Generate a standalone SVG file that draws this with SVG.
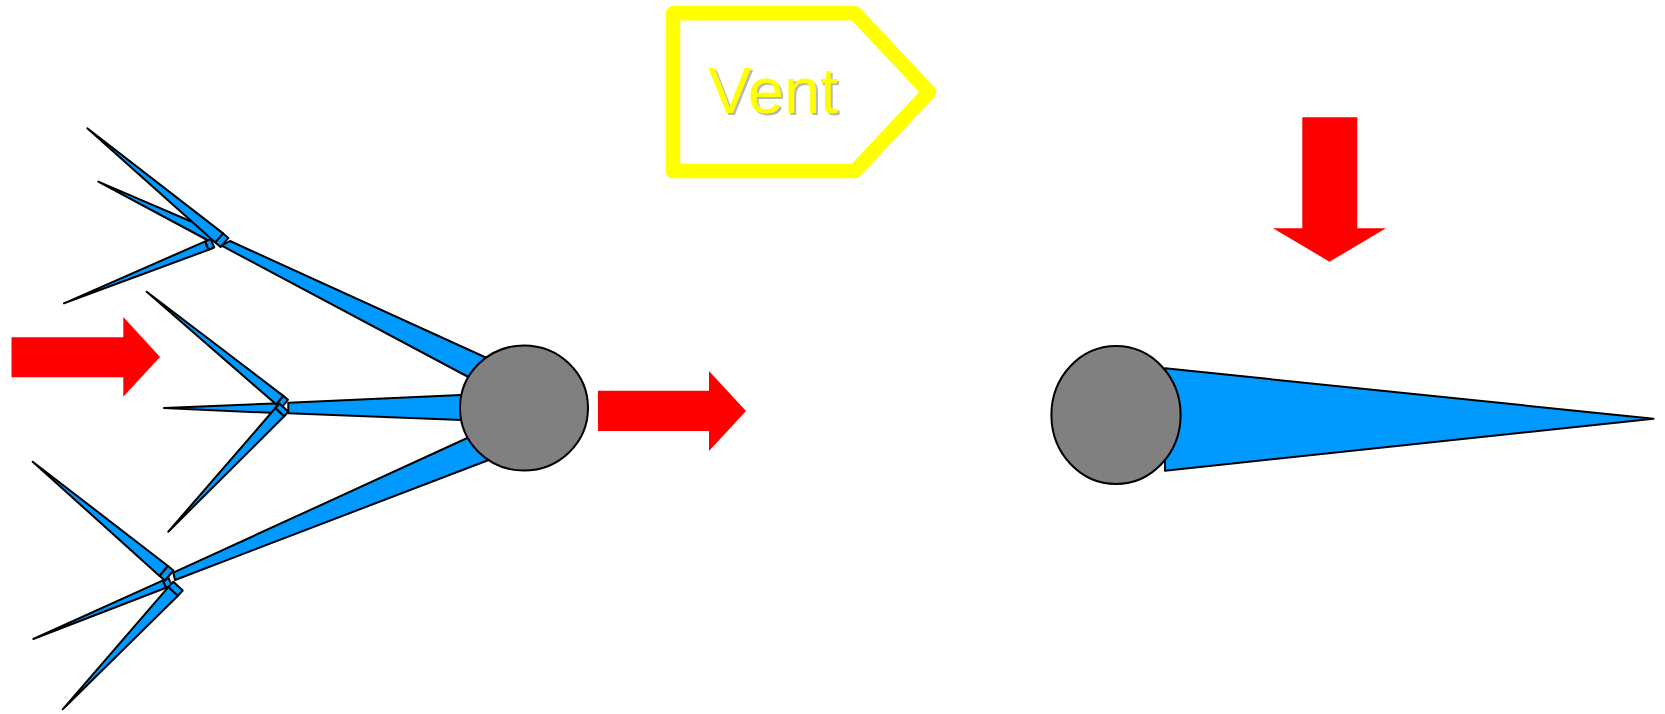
<svg xmlns="http://www.w3.org/2000/svg" width="1665" height="714" viewBox="0 0 1665 714">
  <style>
    .blade { fill: #0099ff; stroke: #000; stroke-width: 2; stroke-linejoin: round; }
    .hub { fill: #808080; stroke: #000; stroke-width: 2; }
    .flow { fill: #ff0000; stroke: none; }
    .tag { fill: none; stroke: #ffff00; stroke-width: 14.5; stroke-linejoin: round; }
    .tag-text { font-family: "Liberation Sans", Arial, sans-serif; font-size: 65px; }
  </style>

  <!-- white page -->
  <rect x="0" y="0" width="1665" height="714" fill="#ffffff"/>

  <!-- left rotor: three arms, each carrying a three-bladed tip rotor -->
  <g id="rotor-left">
    <!-- arms, drawn under the central hub -->
    <polygon class="blade" points="230,241 500,364 490,388.5 221.7,245.7"/>
    <polygon class="blade" points="288.3,402.7 500,393.2 500,421.6 288.3,413.3"/>
    <polygon class="blade" points="173.3,572.7 500,423 505,453.7 175,580"/>

    <!-- upper tip rotor -->
    <g id="tip-rotor-upper">
      <polygon class="blade" points="98.3,181.7 211,230 212,242.5"/>
      <polygon class="blade" points="64,303.3 205.2,241.4 208.6,249.8"/>
      <polygon class="blade" points="205.2,241.4 210.8,239.1 214.2,247.5 208.6,249.8"/>
      <polygon class="blade" points="87.3,128.3 223.1,233.4 215.3,242.6"/>
      <polygon class="blade" points="223.1,233.4 228.4,237.9 220.6,247.1 215.3,242.6"/>
    </g>

    <!-- middle tip rotor -->
    <g id="tip-rotor-middle">
      <polygon class="blade" points="164,408 280,403.3 282,413.3"/>
      <polygon class="blade" points="146.7,291.7 283.3,395.9 276.3,404.5"/>
      <polygon class="blade" points="283.3,395.9 288,399.7 281,408.3 276.3,404.5"/>
      <polygon class="blade" points="168.3,531.7 275.4,408 284.2,416.2"/>
      <polygon class="blade" points="275.4,408 279.5,403.6 288.3,411.8 284.2,416.2"/>
    </g>

    <!-- lower tip rotor -->
    <g id="tip-rotor-lower">
      <polygon class="blade" points="33.3,639 163,580.3 166,587.7"/>
      <polygon class="blade" points="163,580.3 168.5,578 171.5,585.4 166,587.7"/>
      <polygon class="blade" points="32.7,461.7 168,566 159.6,576"/>
      <polygon class="blade" points="168,566 173.4,570.5 165,580.5 159.6,576"/>
      <polygon class="blade" points="62.7,709.3 168.5,586.9 177.9,595.7"/>
      <polygon class="blade" points="168.5,586.9 173.3,581.8 182.7,590.6 177.9,595.7"/>
    </g>

    <ellipse id="hub-left" class="hub" cx="524" cy="408" rx="64" ry="62.5"/>
  </g>

  <!-- right rotor seen edge-on: single blade and hub -->
  <g id="rotor-right">
    <polygon class="blade" points="1165,368.3 1653.5,418.8 1165,470.7"/>
    <ellipse id="hub-right" class="hub" cx="1116" cy="415" rx="64.6" ry="69"/>
  </g>

  <!-- vent tag -->
  <g id="vent">
    <path class="tag" d="M673,13.3 H855 L929,92 L855,171 H673 Z"/>
    <text class="tag-text" x="710" y="115" fill="#b8b8b8">Vent</text>
    <text class="tag-text" x="708" y="113" fill="#ffff00">Vent</text>
  </g>

  <!-- flow arrows -->
  <g id="flow-arrows">
    <polygon class="flow" points="11.5,337.3 123.3,337.3 123.3,317 160,357 123.3,396.7 123.3,377.3 11.5,377.3"/>
    <polygon class="flow" points="598,390.7 709,390.7 709,371 746,411 709,451 709,431 598,431"/>
    <polygon class="flow" points="1302.3,117.3 1357.3,117.3 1357.3,228.3 1386,228.3 1329.5,261.7 1273,228.3 1302.3,228.3"/>
  </g>
</svg>
